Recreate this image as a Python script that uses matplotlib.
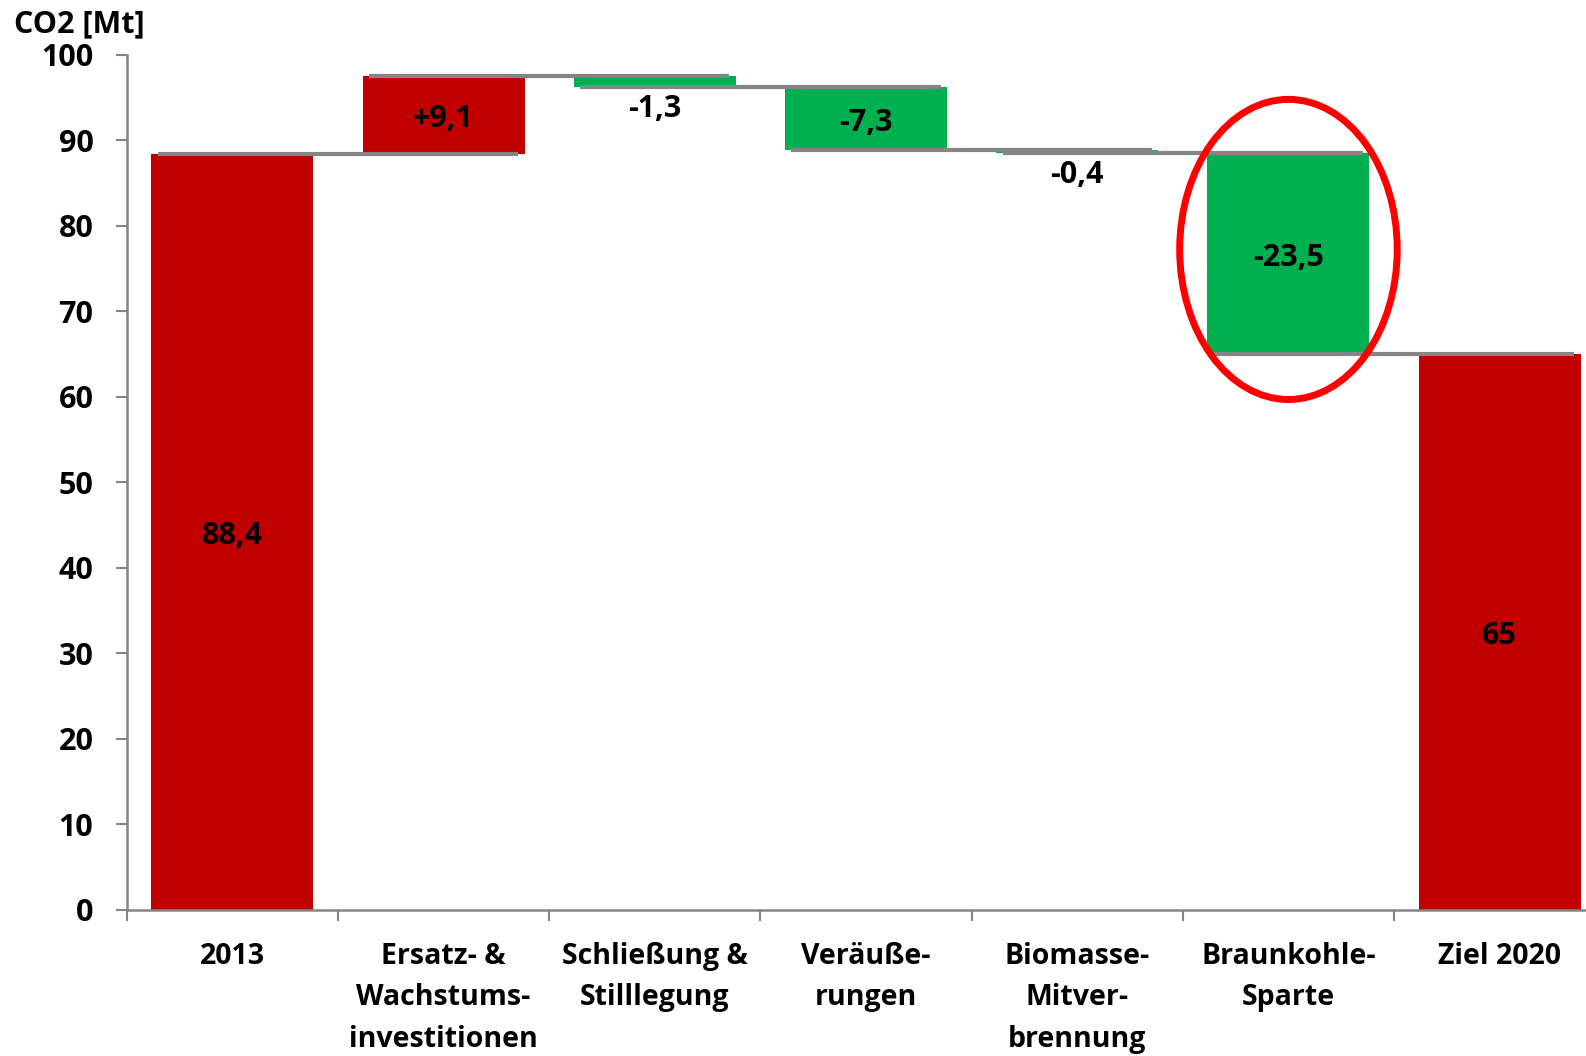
import matplotlib.pyplot as plt
from matplotlib.patches import Ellipse

plt.rcParams['font.family'] = ['Open Sans', 'DejaVu Sans']
plt.rcParams['font.weight'] = 'bold'

categories = ["2013", "Ersatz- &\nWachstums-\ninvestitionen", "Schließung &\nStilllegung",
              "Veräuße-\nrungen", "Biomasse-\nMitver-\nbrennung", "Braunkohle-\nSparte", "Ziel 2020"]
changes = [88.4, 9.1, -1.3, -7.3, -0.4, -23.5, 65.0]
labels = ["88,4", "+9,1", "-1,3", "-7,3", "-0,4", "-23,5", "65"]
is_total = [True, False, False, False, False, False, True]

red = "#C00000"
green = "#00B050"
gray = "#858585"

fig = plt.figure(figsize=(15.86, 10.56), dpi=100)
ax = fig.add_axes([0.07995, 0.1383, 0.9322, 0.8097])

w = 0.767
bottoms, tops = [], []
level = 0.0
for i, c in enumerate(changes):
    if is_total[i]:
        b, t = 0.0, c
        level = c
    else:
        b, t = level, level + c
        level = t
    bottoms.append(min(b, t))
    tops.append(max(b, t))
    color = red if (is_total[i] or c > 0) else green
    ax.bar(i, abs(t - b), bottom=min(b, t), width=w, color=color, zorder=2)

# connector lines (end level of bar i, spanning bar i and bar i+1)
level = 0.0
ends = []
for i, c in enumerate(changes):
    level = c if is_total[i] else level + c
    ends.append(level)
for i in range(len(changes) - 1):
    ax.hlines(ends[i], i - w / 2 + 0.03, i + 1 + w / 2 - 0.03, color=gray, lw=3, zorder=3)

# value labels
for i, lab in enumerate(labels):
    height = tops[i] - bottoms[i]
    if height > 5:
        y = (tops[i] + bottoms[i]) / 2 - 0.5
    else:
        y = bottoms[i] - 2.5
    ax.text(i, y, lab, ha='center', va='center', fontsize=22, fontweight='bold', zorder=4)

# highlight ellipse
ax.add_patch(Ellipse((5, 77.25), 1.03, 35.1, fill=False, edgecolor="#FF0000", lw=5, zorder=5))

ax.set_xlim(-0.5, 6.5)
ax.set_ylim(0, 100)
ax.set_yticks(range(0, 101, 10))
ax.set_yticklabels([str(v) for v in range(0, 101, 10)], fontsize=22, fontweight='bold')
ax.set_xticks([i + 0.5 for i in range(-1, 7)])
ax.set_xticklabels([])
ax.set_xticks(range(len(categories)), minor=True)
ax.set_xticklabels(categories, minor=True, fontsize=20.5, fontweight='bold', linespacing=1.57, va='top')
ax.tick_params(axis='x', which='minor', length=0, pad=23)
ax.tick_params(axis='x', which='major', length=8, width=1.5, color=gray)
ax.tick_params(axis='y', length=8, width=1.5, color=gray, pad=16)

for s in ['top', 'right']:
    ax.spines[s].set_visible(False)
for s in ['left', 'bottom']:
    ax.spines[s].set_color(gray)
    ax.spines[s].set_linewidth(1.8)

fig.text(0.009, 0.977, "CO2 [Mt]", fontsize=22, fontweight='bold', ha='left', va='center')

fig.savefig("out.png", dpi=100)
